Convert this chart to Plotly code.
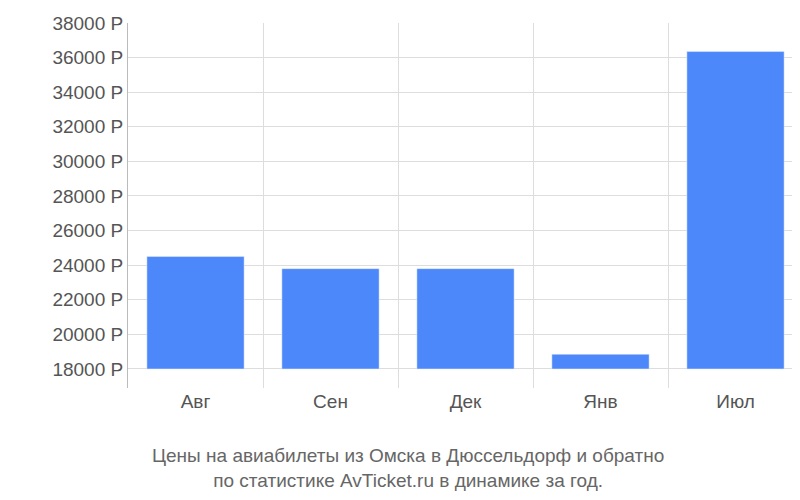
import plotly.graph_objects as go

months = ["Авг", "Сен", "Дек", "Янв", "Июл"]
prices = [24500, 23800, 23800, 18850, 36350]
base_price = 18000
yticks = list(range(18000, 38001, 2000))
ylabels = [f"{v} Р" for v in yticks]

fig = go.Figure()
fig.add_trace(go.Bar(x=list(range(len(months))), y=[p - base_price for p in prices], base=base_price,
                     marker_color="#4d88fb", width=0.72, hoverinfo="skip"))
fig.add_trace(go.Scatter(x=[-0.5, 4.5], y=[None, None], xaxis="x2", showlegend=False))

fig.update_layout(
    width=800, height=500, showlegend=False,
    paper_bgcolor="white", plot_bgcolor="white",
    margin=dict(l=120, r=5, t=15, b=120, autoexpand=False),
    font=dict(family="Liberation Sans, Arial, sans-serif", size=19, color="#555"),
    xaxis=dict(range=[-0.5, 4.5], tickvals=list(range(len(months))), ticktext=months,
               showgrid=False, zeroline=False, tickfont=dict(size=19, color="#555")),
    xaxis2=dict(range=[-0.5, 4.5], overlaying="x", side="bottom", tickvals=[-0.5, 0.5, 1.5, 2.5, 3.5, 4.5],
                showticklabels=False, showgrid=True, gridcolor="#ddd", ticks="",
                showline=False, zeroline=False),
    yaxis=dict(range=[16900, 38000], tickvals=yticks, ticktext=ylabels, showgrid=True, gridcolor="#ddd",
               zeroline=False, showline=True, linecolor="#bbb", ticks="", tickfont=dict(size=19, color="#555")),
    annotations=[dict(text="Цены на авиабилеты из Омска в Дюссельдорф и обратно<br>по статистике AvTicket.ru в динамике за год.",
                      x=0.415, xref="paper", xanchor="center", y=-0.219, yref="paper", yanchor="middle",
                      showarrow=False, font=dict(size=19, color="#666"))],
)
fig.write_html("out.html")
